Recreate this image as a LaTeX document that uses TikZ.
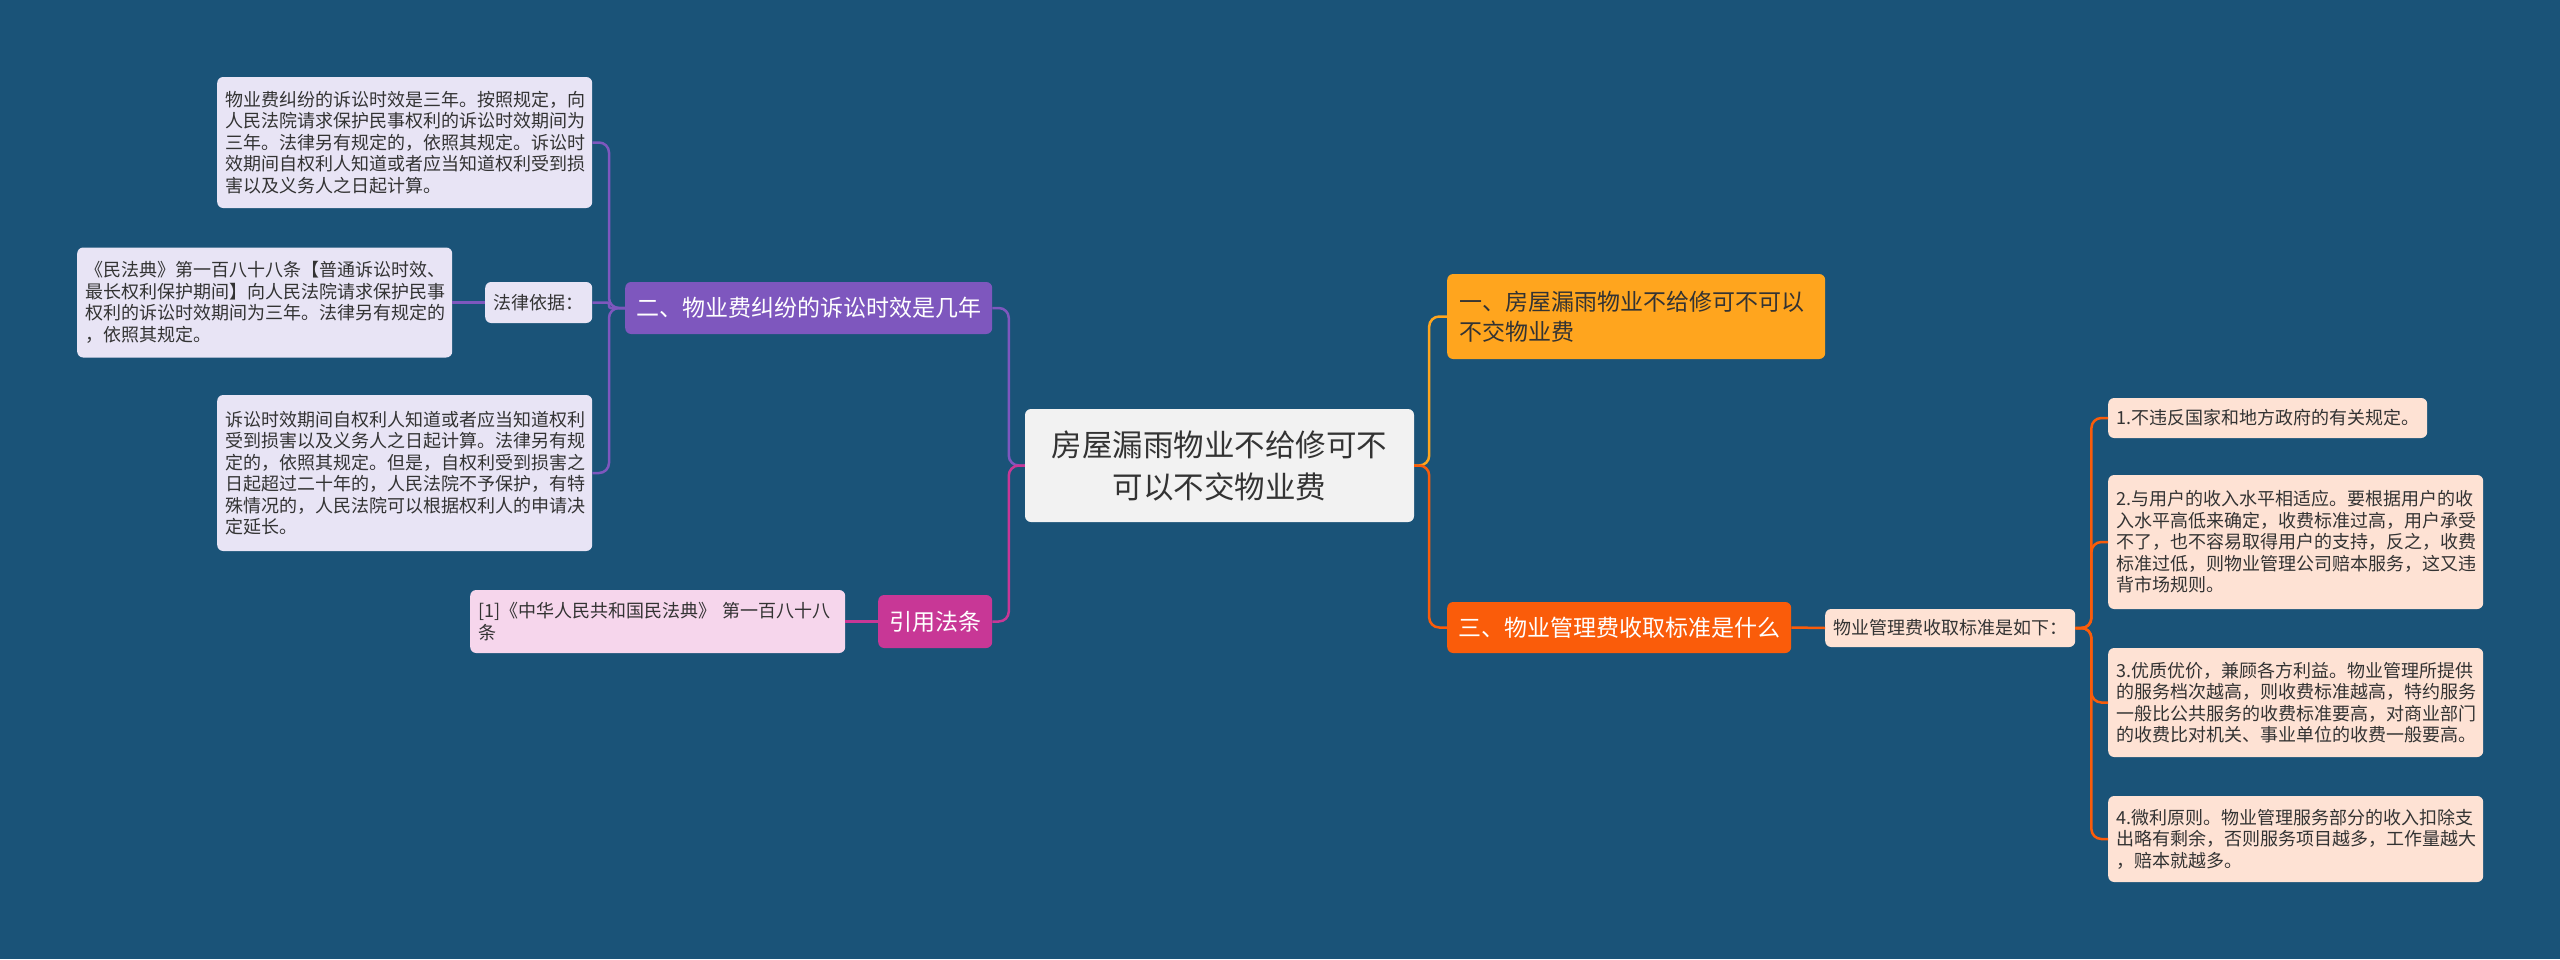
\documentclass[tikz,border=0pt]{standalone}
\usepackage{fontspec}
\setmainfont{Noto Sans CJK SC}
\definecolor{bg}{RGB}{26,83,120}
\definecolor{txt}{RGB}{51,51,51}
\definecolor{purp}{RGB}{126,87,190}
\definecolor{mag}{RGB}{200,55,150}
\definecolor{oy}{RGB}{255,165,30}
\definecolor{orr}{RGB}{250,92,10}
\definecolor{cfill}{RGB}{242,242,242}
\definecolor{lav}{RGB}{232,228,245}
\definecolor{peach}{RGB}{254,226,212}
\definecolor{pink}{RGB}{246,214,236}
\tikzset{
  box/.style={rounded corners=6pt, inner ysep=0pt, anchor=west},
  leaf/.style={box, font=\fontsize{18}{21.5}\selectfont, text=txt, align=left, inner xsep=8pt},
  branch/.style={box, font=\fontsize{23}{30}\selectfont, inner xsep=11pt},
  conn/.style={line width=2.5pt, rounded corners=10pt},
}
\begin{document}
\begin{tikzpicture}[x=1pt,y=-1pt]
\fill[bg] (0,0) rectangle (2560,959);
\useasboundingbox (0,0) rectangle (2560,959);

% central
\node[box, anchor=center, fill=cfill, text=txt, minimum width=389pt, minimum height=113pt, align=center, font=\fontsize{30.5}{42}\selectfont] (center) at (1219.5,465.5) {房屋漏雨物业不给修可不\\可以不交物业费};

% right branches
\node[branch, fill=oy, text=txt, align=left, text width=354pt, inner xsep=12pt, minimum height=85pt] (one) at (1447,316.5) {一、房屋漏雨物业不给修可不可以\\不交物业费};
\node[branch, fill=orr, text=white, minimum height=51pt] (three) at (1447,627.5) {三、物业管理费收取标准是什么};
\node[leaf, fill=peach, minimum height=38pt] (wuye) at (1825,628) {物业管理费收取标准是如下：};

\node[leaf, fill=peach, minimum height=40pt] (item1) at (2108,418) {1.不违反国家和地方政府的有关规定。};
\node[leaf, fill=peach, text width=359pt, minimum height=134pt] (item2) at (2108,542) {2.与用户的收入水平相适应。要根据用户的收\\入水平高低来确定，收费标准过高，用户承受\\不了，也不容易取得用户的支持，反之，收费\\标准过低，则物业管理公司赔本服务，这又违\\背市场规则。};
\node[leaf, fill=peach, text width=359pt, minimum height=109pt] (item3) at (2108,702.5) {3.优质优价，兼顾各方利益。物业管理所提供\\的服务档次越高，则收费标准越高，特约服务\\一般比公共服务的收费标准要高，对商业部门\\的收费比对机关、事业单位的收费一般要高。};
\node[leaf, fill=peach, text width=359pt, minimum height=86pt] (item4) at (2108,839) {4.微利原则。物业管理服务部分的收入扣除支\\出略有剩余，否则服务项目越多，工作量越大\\，赔本就越多。};

% left branches
\node[branch, fill=purp, text=white, minimum height=52pt] (two) at (625,308) {二、物业费纠纷的诉讼时效是几年};
\node[branch, fill=mag, text=white, minimum height=53pt] (cite) at (878,621.5) {引用法条};

\node[leaf, fill=lav, text width=359pt, minimum height=131pt] (top) at (217,142.5) {物业费纠纷的诉讼时效是三年。按照规定，向\\人民法院请求保护民事权利的诉讼时效期间为\\三年。法律另有规定的，依照其规定。诉讼时\\效期间自权利人知道或者应当知道权利受到损\\害以及义务人之日起计算。};
\node[leaf, fill=lav, inner xsep=8.5pt, minimum height=41pt] (law) at (485,302.5) {法律依据：};
\node[leaf, fill=lav, text width=359pt, minimum height=110pt] (code) at (77,302.5) {《民法典》第一百八十八条【普通诉讼时效、\\最长权利保护期间】向人民法院请求保护民事\\权利的诉讼时效期间为三年。法律另有规定的\\，依照其规定。};
\node[leaf, fill=lav, text width=359pt, minimum height=156pt] (bot) at (217,473) {诉讼时效期间自权利人知道或者应当知道权利\\受到损害以及义务人之日起计算。法律另有规\\定的，依照其规定。但是，自权利受到损害之\\日起超过二十年的，人民法院不予保护，有特\\殊情况的，人民法院可以根据权利人的申请决\\定延长。};
\node[leaf, fill=pink, text width=359pt, minimum height=63pt] (ref) at (470,621.5) {[1]《中华人民共和国民法典》 第一百八十八\\条};

% connectors right
\draw[conn, oy] (center.east) -- ++(15,0) |- (one.west);
\draw[conn, orr] (center.east) -- ++(15,0) |- (three.west);
\draw[conn, orr] (three.east) -- (wuye.west);
\draw[conn, orr] (wuye.east) -- ++(16,0) |- (item1.west);
\draw[conn, orr] (wuye.east) -- ++(16,0) |- (item2.west);
\draw[conn, orr] (wuye.east) -- ++(16,0) |- (item3.west);
\draw[conn, orr] (wuye.east) -- ++(16,0) |- (item4.west);

% connectors left
\draw[conn, purp] (center.west) -- ++(-16,0) |- (two.east);
\draw[conn, mag] (center.west) -- ++(-16,0) |- (cite.east);
\draw[conn, purp] (two.west) -- ++(-16,0) |- (top.east);
\draw[conn, purp, rounded corners=2pt] (two.west) -- ++(-16,0) |- (law.east);
\draw[conn, purp] (two.west) -- ++(-16,0) |- (bot.east);
\draw[conn, purp] (law.west) -- (code.east);
\draw[conn, mag] (cite.west) -- (ref.east);
\end{tikzpicture}
\end{document}
